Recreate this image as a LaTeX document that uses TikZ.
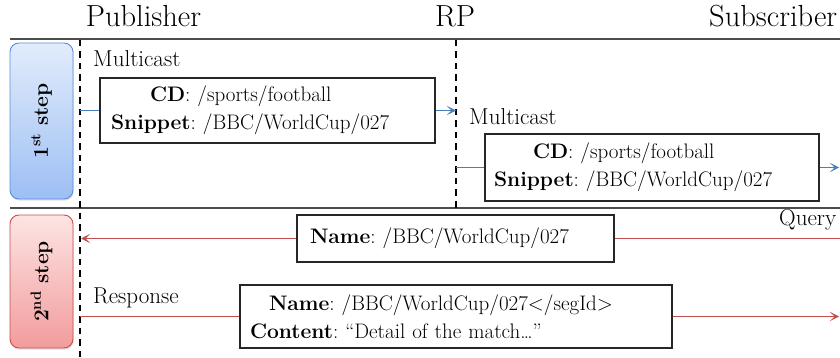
\documentclass[tikz,border=0pt]{standalone}
\usepackage{fontspec}
\usetikzlibrary{arrows.meta,shadows}

\definecolor{bluewire}{HTML}{4A7EBB}
\definecolor{redwire}{HTML}{C0504D}
\definecolor{bluetop}{HTML}{E2ECFC}
\definecolor{bluebot}{HTML}{9DBFF4}
\definecolor{blueedge}{HTML}{5B8FD6}
\definecolor{redtop}{HTML}{FDE4E4}
\definecolor{redbot}{HTML}{F29C9C}
\definecolor{rededge}{HTML}{C8504D}

\frenchspacing

\begin{document}
\begin{tikzpicture}[x=1pt,y=-1pt,
  title/.style={font=\fontsize{30.5}{34}\selectfont, anchor=base, inner sep=0pt},
  lbl/.style={font=\fontsize{23}{26}\selectfont, anchor=base west, inner sep=0pt},
  msgbox/.style={draw=black!85, line width=1.1pt, fill=white, align=left,
    inner xsep=0pt, inner ysep=0pt, font=\fontsize{21}{28}\selectfont},
  stepbox/.style={rounded corners=9pt, line width=0.9pt, minimum width=63pt,
    inner sep=0pt, drop shadow={shadow xshift=0.6pt, shadow yshift=-1.6pt, opacity=0.25}},
  steptext/.style={rotate=90, font=\bfseries\fontsize{21}{24}\selectfont, inner sep=0pt},
  lifeline/.style={line width=1.4pt, dash pattern=on 6.5pt off 5pt},
  divider/.style={line width=1.2pt, draw=black!70},
  bluemsg/.style={draw=bluewire, line width=1.2pt},
  redmsg/.style={draw=redwire, line width=1.2pt},
  tip/.style={-{Stealth[length=9pt,width=9pt,inset=4.5pt]}}
]
\useasboundingbox (0,0) rectangle (840,358);
\clip (0,0) rectangle (840,358);

% column headings
\node[title] (pub) at (143.5,27) {Publisher};
\node[title] (rp) at (455,27) {RP};
\node[title, anchor=base west] (sub) at (709,27) {Subscriber};

% section dividers
\coordinate (d1a) at (10,39);  \coordinate (d1b) at (840,39);
\coordinate (d2a) at (10,208); \coordinate (d2b) at (840,208);
\draw[divider] (d1a) -- (d1b);
\draw[divider] (d2a) -- (d2b);

% life lines
\coordinate (pubtop) at (80,40);  \coordinate (pubbot) at (80,358);
\coordinate (rptop) at (456,40);  \coordinate (rpbot) at (456,208);
\draw[lifeline] (pubtop) -- (pubbot);
\draw[lifeline] (rptop) -- (rpbot);

% step badges
\node[stepbox, minimum height=156pt, draw=blueedge, top color=bluetop, bottom color=bluebot]
  (s1) at (41.5,121) {};
\node[steptext] (s1t) at (s1.center) {1\textsuperscript{st} step};
\node[stepbox, minimum height=133pt, draw=rededge, top color=redtop, bottom color=redbot]
  (s2) at (41.5,281.5) {};
\node[steptext] (s2t) at (s2.center) {2\textsuperscript{nd} step};

% step 1: publisher -> RP -> subscriber
\node[lbl] (mc1) at (93,67) {Multicast};
\node[msgbox, minimum width=335pt, minimum height=65pt, text width=313pt]
  (box1) at (267.5,110.5) {\hspace*{39pt}\textbf{CD}: /sports/football\\\textbf{Snippet}: /BBC/WorldCup/027};
\coordinate (p1) at (80,110.5);
\coordinate (r1) at (456,110.5);
\draw[bluemsg] (p1) -- (box1.west);
\draw[bluemsg, tip] (box1.east) -- (r1);

\node[lbl] (mc2) at (469,125) {Multicast};
\node[msgbox, minimum width=334pt, minimum height=67pt, text width=316pt]
  (box2) at (652,167.5) {\hspace*{39pt}\textbf{CD}: /sports/football\\\textbf{Snippet}: /BBC/WorldCup/027};
\coordinate (r2) at (456,167.5);
\coordinate (s2end) at (839,167.5);
\draw[bluemsg] (r2) -- (box2.west);
\draw[bluemsg, tip] (box2.east) -- (s2end);

% step 2: query and response
\node[lbl] (qry) at (779,225) {Query};
\node[msgbox, minimum width=317pt, minimum height=47pt, text width=291pt]
  (box3) at (455.5,238.5) {\textbf{Name}: /BBC/WorldCup/027};
\coordinate (q1) at (840,238.5);
\coordinate (q2) at (81,238.5);
\draw[redmsg] (q1) -- (box3.east);
\draw[redmsg, tip] (box3.west) -- (q2);

\node[lbl] (rsp) at (93,303) {Response};
\node[msgbox, minimum width=432pt, minimum height=63pt, text width=412pt]
  (box4) at (456,316.5) {\hspace*{19pt}\textbf{Name}: /BBC/WorldCup/027</segId>\\\textbf{Content}: “Detail of the match…”};
\coordinate (a1) at (80,316.5);
\coordinate (a2) at (839,316.5);
\draw[redmsg] (a1) -- (box4.west);
\draw[redmsg, tip] (box4.east) -- (a2);
\end{tikzpicture}
\end{document}
